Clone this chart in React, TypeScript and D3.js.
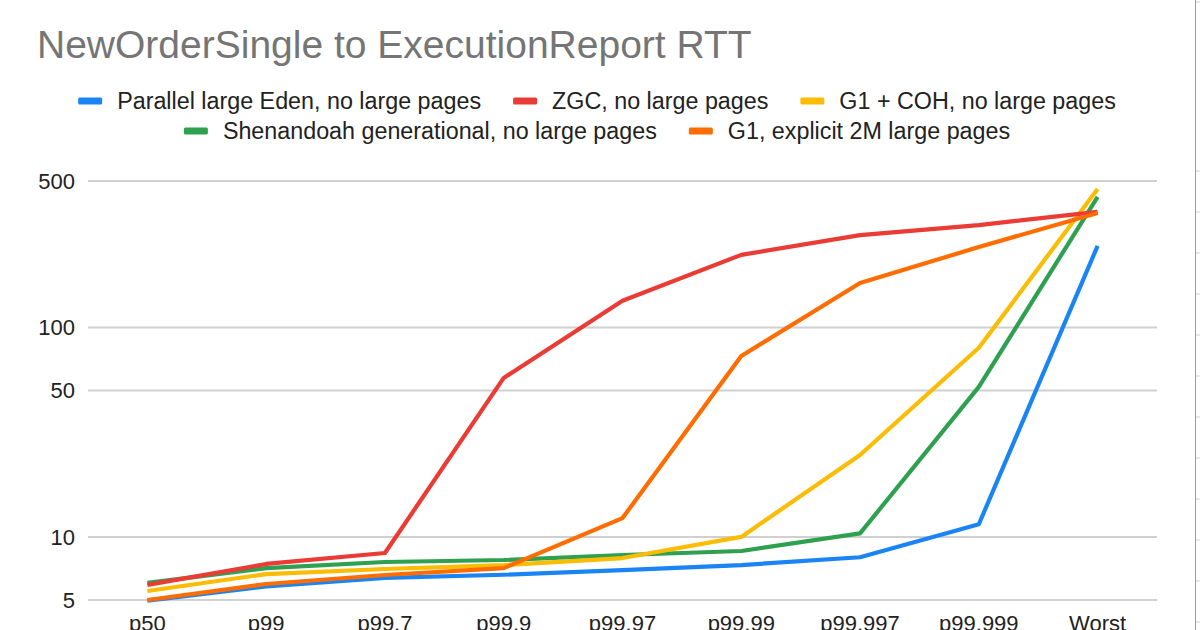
import React, { useEffect, useRef } from 'react';
import * as d3 from 'd3';

const categories = ['p50', 'p99', 'p99.7', 'p99.9', 'p99.97', 'p99.99', 'p99.997', 'p99.999', 'Worst'];

const parallelEden = [4.97, 5.8, 6.37, 6.6, 6.95, 7.34, 8.0, 11.5, 245];
const zgc = [5.9, 7.43, 8.38, 57.4, 134, 222, 276, 308, 356];
const g1Coh = [5.52, 6.65, 7.03, 7.34, 7.93, 10, 24.6, 80, 458];
const shenandoah = [6.03, 7.1, 7.59, 7.76, 8.2, 8.57, 10.4, 52, 420];
const g1LargePages = [5.0, 5.96, 6.58, 7.1, 12.3, 73, 163, 242, 352];

const seriesNames = [
  'Parallel large Eden, no large pages',
  'ZGC, no large pages',
  'G1 + COH, no large pages',
  'Shenandoah generational, no large pages',
  'G1, explicit 2M large pages',
];
const seriesColors = ['#1a84f4', '#ea3b35', '#fbbc04', '#2ea04f', '#ff6d01'];
const yTicks = [5, 10, 50, 100, 500];
const legendRows = [[0, 1, 2], [3, 4]];

const title = 'NewOrderSingle to ExecutionReport RTT';
const FONT = '"Liberation Sans", Arial, sans-serif';

const App = () => {
  const svgRef = useRef<SVGSVGElement>(null);

  useEffect(() => {
    const svg = d3.select(svgRef.current);
    svg.selectAll('*').remove();

    const width = 1200;
    const height = 630;
    const plot = { left: 88, right: 1157, top: 181, bottom: 600 };

    svg.append('rect').attr('width', width).attr('height', height).attr('fill', '#fff');

    // title
    svg.append('text')
      .attr('x', 37)
      .attr('y', 58)
      .attr('font-family', FONT)
      .attr('font-size', 39)
      .attr('fill', '#757575')
      .text(title);

    const x = d3.scaleBand<string>()
      .domain(categories)
      .range([plot.left, plot.right]);

    const y = d3.scaleLog()
      .domain([5, 500])
      .range([plot.bottom, plot.top]);

    // gridlines + y labels
    const grid = svg.append('g');
    grid.selectAll('line')
      .data(yTicks)
      .join('line')
      .attr('x1', plot.left)
      .attr('x2', plot.right)
      .attr('y1', d => y(d))
      .attr('y2', d => y(d))
      .attr('stroke', '#d0d0d0')
      .attr('stroke-width', 2);

    grid.selectAll('text')
      .data(yTicks)
      .join('text')
      .attr('x', 75)
      .attr('y', d => y(d))
      .attr('dy', '0.36em')
      .attr('text-anchor', 'end')
      .attr('font-family', FONT)
      .attr('font-size', 22)
      .attr('fill', '#222')
      .text(d => String(d));

    // x labels (cut by the bottom edge, as in the source image)
    svg.append('g')
      .selectAll('text')
      .data(categories)
      .join('text')
      .attr('x', d => (x(d) as number) + x.bandwidth() / 2)
      .attr('y', 631)
      .attr('text-anchor', 'middle')
      .attr('font-family', FONT)
      .attr('font-size', 22)
      .attr('fill', '#222')
      .text(d => d);

    // lines
    const allSeries = [parallelEden, zgc, g1Coh, shenandoah, g1LargePages];
    const drawOrder = [0, 3, 2, 1, 4];
    const line = d3.line<number>()
      .x((_, i) => (x(categories[i]) as number) + x.bandwidth() / 2)
      .y(d => y(d));

    const lines = svg.append('g');
    drawOrder.forEach(si => {
      lines.append('path')
        .datum(allSeries[si])
        .attr('fill', 'none')
        .attr('stroke', seriesColors[si])
        .attr('stroke-width', 4.2)
        .attr('stroke-linejoin', 'round')
        .attr('d', line);
    });

    // legend
    const legend = svg.append('g');
    const rowY = [101, 131];
    const gapSwatch = 15;
    const gapItem = 32;
    legendRows.forEach((row, ri) => {
      const rowG = legend.append('g');
      let cx = 0;
      row.forEach(si => {
        rowG.append('rect')
          .attr('x', cx)
          .attr('y', rowY[ri] - 3.5)
          .attr('width', 24)
          .attr('height', 7)
          .attr('rx', 1.5)
          .attr('fill', seriesColors[si]);
        const t = rowG.append('text')
          .attr('x', cx + 24 + gapSwatch)
          .attr('y', rowY[ri])
          .attr('dy', '0.36em')
          .attr('font-family', FONT)
          .attr('font-size', 23.3)
          .attr('fill', '#222')
          .text(seriesNames[si]);
        const w = (t.node() as SVGTextElement).getComputedTextLength();
        cx += 24 + gapSwatch + w + gapItem;
      });
      const total = cx - gapItem;
      rowG.attr('transform', `translate(${597 - total / 2},0)`);
    });

    // right edge of neighbouring panel
    const edge = svg.append('g');
    edge.append('line')
      .attr('x1', 1195.5).attr('x2', 1195.5)
      .attr('y1', 0).attr('y2', height)
      .attr('stroke', '#9e9e9e')
      .attr('stroke-width', 1);
    const edgeTicks = d3.range(0, 13).map(i => (i === 0 ? 2 : 171 + (i - 1) * 41));
    edge.selectAll('.tk')
      .data(edgeTicks)
      .join('line')
      .attr('x1', 1196).attr('x2', 1200)
      .attr('y1', d => d).attr('y2', d => d)
      .attr('stroke', '#cfcfcf')
      .attr('stroke-width', 1);
  }, []);

  return (
    <svg
      ref={svgRef}
      width={1200}
      height={630}
      style={{ position: 'absolute', left: 0, top: 0 }}
    />
  );
};

export default App;
